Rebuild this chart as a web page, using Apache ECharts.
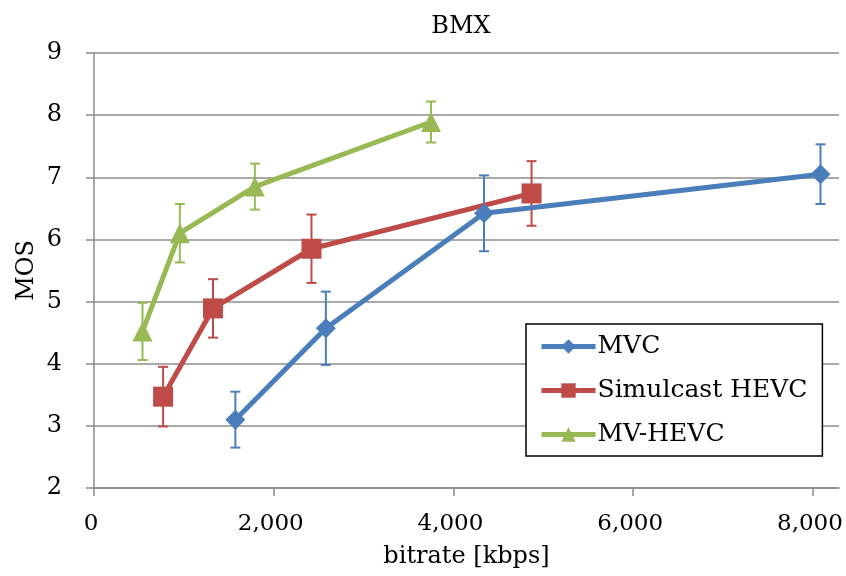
<!DOCTYPE html>
<html>
<head>
<meta charset="utf-8">
<script src="https://cdn.jsdelivr.net/npm/echarts@6/dist/echarts.min.js"></script>
<style>
  html, body { margin: 0; padding: 0; background: #fff; }
  #chart { width: 846px; height: 576px; }
</style>
</head>
<body>
<div id="chart"></div>
<script>
// values
const seriesNames = ['MVC', 'Simulcast HEVC', 'MV-HEVC']

const mvcX = [1573, 2580, 4340, 8084]
const mvcY = [3.1, 4.57, 6.42, 7.05]
const mvcErr = [0.45, 0.59, 0.61, 0.48]

const simX = [769, 1324, 2420, 4869]
const simY = [3.47, 4.89, 5.85, 6.74]
const simErr = [0.48, 0.47, 0.55, 0.52]

const mvhX = [540, 955, 1790, 3750]
const mvhY = [4.52, 6.1, 6.85, 7.89]
const mvhErr = [0.46, 0.47, 0.37, 0.33]

const colors = ['#4a7ebb', '#be4b48', '#98b954']
const symbols = ['diamond', 'rect', 'triangle']
const symbolSizes = [20, 20, 20]
const FONT = 'DejaVu Serif'

const chart = echarts.init(document.getElementById('chart'))

const lineData = (xs, ys) => xs.map((x, i) => [x, ys[i]])
const errData = (xs, ys, es) => xs.map((x, i) => [x, ys[i], es[i]])

// error bars through the axis scales
const errorSeries = (data, color) => ({
  type: 'custom',
  silent: true,
  z: 1,
  data: data,
  encode: { x: 0, y: 1 },
  renderItem: (params, api) => {
    const x = api.value(0), y = api.value(1), e = api.value(2)
    const top = api.coord([x, y + e])
    const bot = api.coord([x, y - e])
    const hw = 5
    const style = { stroke: color, lineWidth: 2 }
    return {
      type: 'group',
      children: [
        { type: 'line', shape: { x1: top[0], y1: top[1], x2: bot[0], y2: bot[1] }, style },
        { type: 'line', shape: { x1: top[0] - hw, y1: top[1], x2: top[0] + hw, y2: top[1] }, style },
        { type: 'line', shape: { x1: bot[0] - hw, y1: bot[1], x2: bot[0] + hw, y2: bot[1] }, style }
      ]
    }
  }
})

const lineSeries = (name, data, i) => ({
  name: name,
  type: 'line',
  z: 3,
  data: data,
  symbol: symbols[i],
  symbolSize: symbolSizes[i],
  lineStyle: { color: colors[i], width: 5 },
  itemStyle: { color: colors[i] }
})

const option = {
  backgroundColor: '#fff',
  animation: false,
  textStyle: { fontFamily: FONT, color: '#000' },
  title: {
    text: 'BMX',
    left: 456,
    textAlign: 'center',
    top: 10,
    textStyle: { fontFamily: FONT, fontSize: 24, fontWeight: 'normal', color: '#000' }
  },
  legend: {
    data: seriesNames,
    orient: 'vertical',
    left: 526,
    top: 324,
    padding: [10, 15, 9, 13],
    itemGap: 19,
    itemWidth: 54,
    itemHeight: 18,
    lineStyle: { width: 5 },
    backgroundColor: '#fff',
    borderColor: '#000',
    borderWidth: 1.5,
    textStyle: { fontFamily: FONT, fontSize: 25, color: '#000', padding: [0, 0, 0, -3] }
  },
  grid: { left: 94, right: 7, top: 53, bottom: 88, outerBoundsMode: 'none' },
  xAxis: {
    type: 'value',
    min: 0,
    max: 8290,
    interval: 2000,
    name: 'bitrate [kbps]',
    nameLocation: 'middle',
    nameGap: 57,
    nameTextStyle: { fontFamily: FONT, fontSize: 24, color: '#000' },
    axisLine: { lineStyle: { color: '#8c8c8c', width: 1.5 } },
    axisTick: { show: true, length: 8, lineStyle: { color: '#8c8c8c', width: 1.5 } },
    splitLine: { show: false },
    axisLabel: {
      margin: 25,
      fontFamily: FONT,
      fontSize: 23,
      color: '#000',
      padding: [0, 6, 0, 0],
      showMaxLabel: false,
      formatter: v => v.toLocaleString('en-US')
    }
  },
  yAxis: {
    type: 'value',
    min: 2,
    max: 9,
    interval: 1,
    name: 'MOS',
    nameLocation: 'middle',
    nameGap: 55,
    nameMoveOverlap: false,
    nameTextStyle: { fontFamily: FONT, fontSize: 24, color: '#000' },
    axisLine: { show: true, lineStyle: { color: '#8c8c8c', width: 1.5 } },
    axisTick: { show: true, length: 8, lineStyle: { color: '#8c8c8c', width: 1.5 } },
    splitLine: { lineStyle: { color: '#8c8c8c', width: 1.5 } },
    axisLabel: { margin: 32, fontFamily: FONT, fontSize: 24, color: '#000' }
  },
  series: [
    errorSeries(errData(mvcX, mvcY, mvcErr), colors[0]),
    errorSeries(errData(simX, simY, simErr), colors[1]),
    errorSeries(errData(mvhX, mvhY, mvhErr), colors[2]),
    lineSeries(seriesNames[0], lineData(mvcX, mvcY), 0),
    lineSeries(seriesNames[1], lineData(simX, simY), 1),
    lineSeries(seriesNames[2], lineData(mvhX, mvhY), 2)
  ]
}

chart.setOption(option)
window.addEventListener('resize', () => chart.resize())
</script>
</body>
</html>
